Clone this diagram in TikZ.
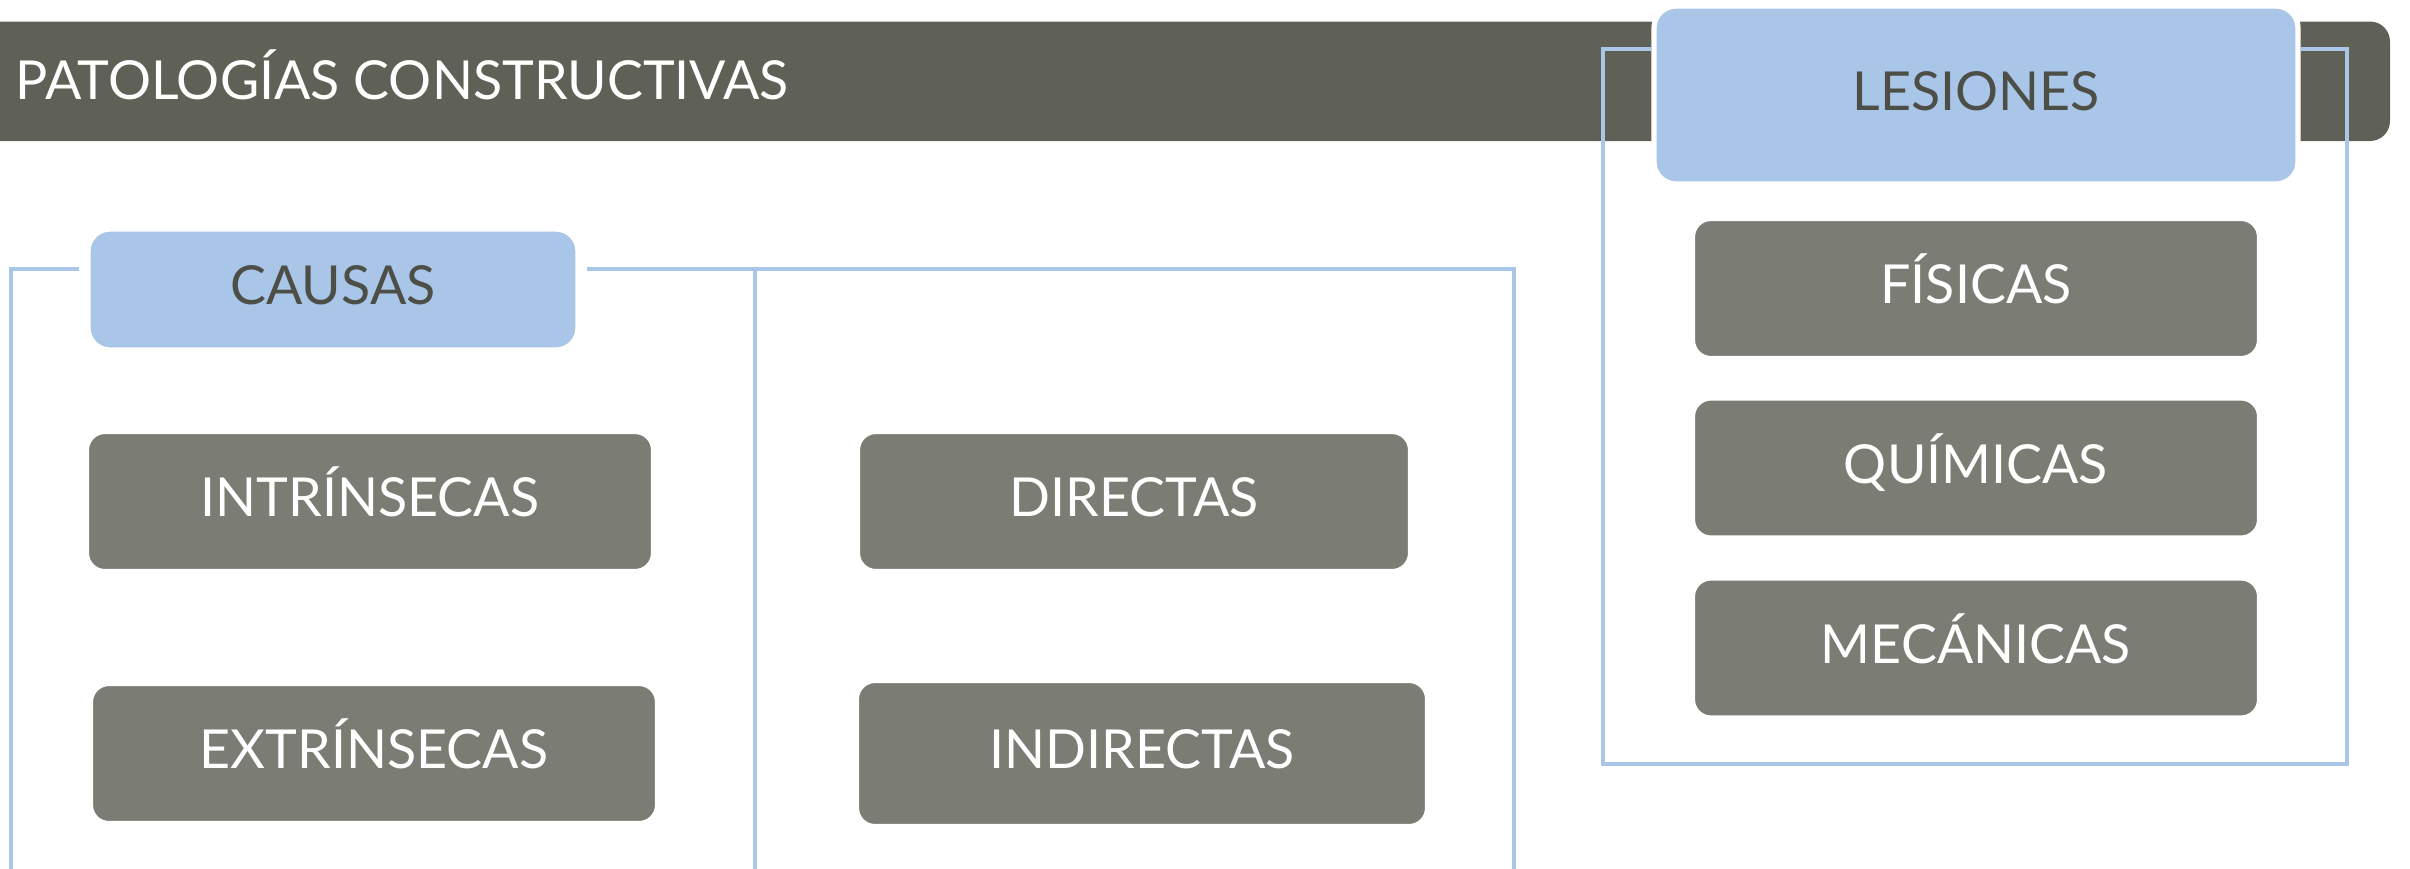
\documentclass[tikz,border=0pt]{standalone}
\usepackage{fontspec}
\setmainfont{Lato}
\definecolor{bannergray}{HTML}{5F6157}
\definecolor{boxgray}{HTML}{7B7C73}
\definecolor{lightblue}{HTML}{A9C6E9}
\definecolor{textgray}{HTML}{4D4F47}

\begin{document}
\begin{tikzpicture}[
  graybox/.style={shape=rectangle,rounded corners=0.17cm,fill=boxgray,draw=white,line width=0.6pt,
    text=white,inner sep=0pt,text height=0.4cm,text depth=0.1cm,font=\fontsize{15.3}{18}\selectfont},
  bluebox/.style={shape=rectangle,rounded corners=0.22cm,fill=lightblue,draw=white,line width=1.5pt,
    text=textgray,inner sep=0pt,text height=0.4cm,text depth=0.1cm,font=\fontsize{15.3}{18}\selectfont},
  link/.style={draw=lightblue,line width=1.3pt}
]
  \useasboundingbox (0,0) rectangle (24.10,-8.68);

  % banner
  \fill[bannergray,rounded corners=0.2cm] (-1,-0.215) rectangle (23.90,-1.41);
  \node[anchor=west,text=white,inner sep=0pt,font=\fontsize{15.3}{18}\selectfont] (title) at (0.15,-0.75) {PATOLOGÍAS CONSTRUCTIVAS};

  % lesiones
  \node[bluebox,minimum width=6.44cm,minimum height=1.78cm] (les) at (19.76,-0.95) {LESIONES};
  \node[graybox,minimum width=5.64cm,minimum height=1.37cm] (fis) at (19.76,-2.885) {FÍSICAS};
  \node[graybox,minimum width=5.64cm,minimum height=1.37cm] (quim) at (19.76,-4.68) {QUÍMICAS};
  \node[graybox,minimum width=5.64cm,minimum height=1.37cm] (mec) at (19.76,-6.48) {MECÁNICAS};

  \coordinate (lf1) at (16.03,-0.49);
  \coordinate (lf2) at (16.03,-7.64);
  \coordinate (lf3) at (23.47,-7.64);
  \coordinate (lf4) at (23.47,-0.49);
  \draw[link] (les.west |- lf1) -- (lf1) -- (lf2) -- (lf3) -- (lf4) -- (les.east |- lf4);

  % causas
  \node[bluebox,minimum width=4.90cm,minimum height=1.21cm] (causas) at (3.33,-2.895) {CAUSAS};
  \node[graybox,minimum width=5.64cm,minimum height=1.37cm] (intr) at (3.70,-5.015) {INTRÍNSECAS};
  \node[graybox,minimum width=5.64cm,minimum height=1.37cm] (extr) at (3.74,-7.535) {EXTRÍNSECAS};
  \node[graybox,minimum width=5.50cm,minimum height=1.37cm] (dir) at (11.34,-5.015) {DIRECTAS};
  \node[graybox,minimum width=5.68cm,minimum height=1.43cm] (indir) at (11.42,-7.535) {INDIRECTAS};

  \coordinate (cl) at (0.11,-2.69);
  \coordinate (clb) at (0.11,-9);
  \coordinate (cm) at (7.55,-2.69);
  \coordinate (cmb) at (7.55,-9);
  \coordinate (cr) at (15.14,-2.69);
  \coordinate (crb) at (15.14,-9);
  \draw[link,shorten <=0.06cm] (causas.west |- cl) -- (cl) -- (clb);
  \draw[link,shorten <=0.06cm] (causas.east |- cr) -- (cr) -- (crb);
  \draw[link] (cm) -- (cmb);

\end{tikzpicture}
\end{document}
